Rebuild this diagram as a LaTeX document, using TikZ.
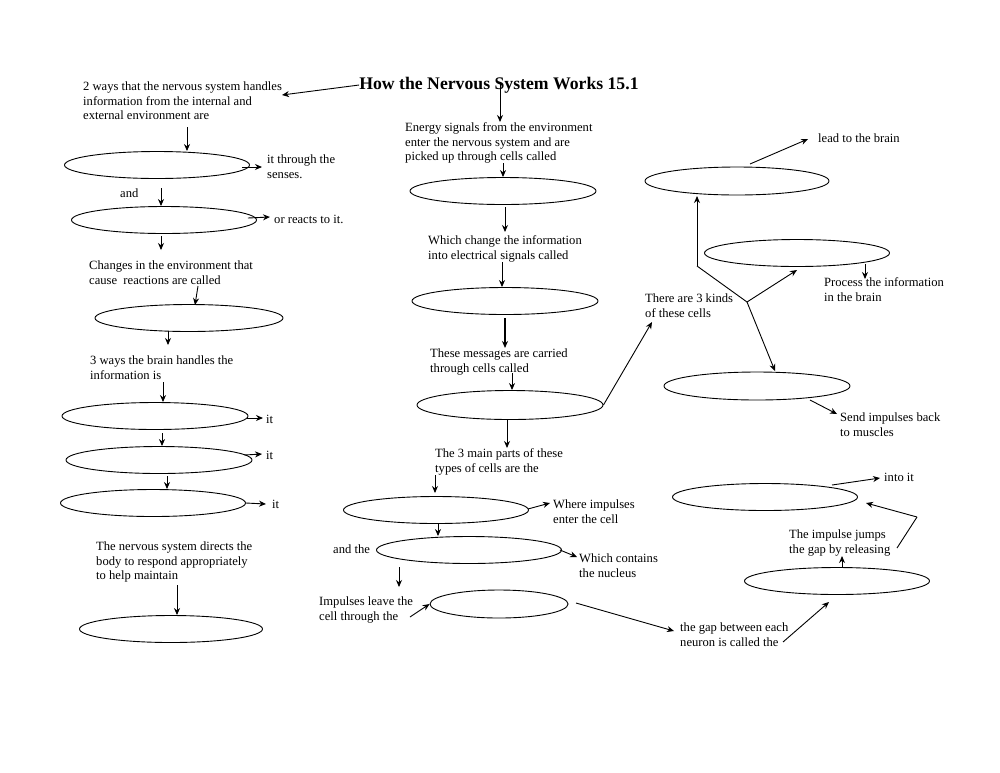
\documentclass[tikz,border=0pt]{standalone}
\usepackage{fontspec}
\setmainfont{Liberation Serif}
\usetikzlibrary{shapes.geometric,arrows.meta}
\tikzset{
  ell/.style={draw, ellipse, line width=0.9pt, inner sep=0pt, minimum width=185pt, minimum height=27pt},
  txt/.style={anchor=north west, align=left, inner sep=0pt, yshift=-1.5pt, font=\fontsize{12.6}{14.6}\selectfont},
  arr/.style={line width=0.9pt, -{Stealth[length=7pt,width=6pt]}},
  ln/.style={line width=0.9pt},
  ttl/.style={inner sep=0pt, font=\fontsize{17.7}{19}\selectfont\bfseries}
}
\begin{document}
\begin{tikzpicture}[x=1pt,y=-1pt]
\useasboundingbox[fill=white] (0,0) rectangle (1000,772);
% title
\node[ttl] (title) at (499,85) {How the Nervous System Works 15.1};
% left column ellipses
\node[ell] (e1) at (157,165) {};
\node[ell] (e2) at (164,220) {};
\node[ell, minimum width=188pt] (e3) at (189,318) {};
\node[ell, minimum width=186pt] (e4) at (155,416) {};
\node[ell, minimum width=186pt] (e5) at (159,460) {};
\node[ell] (e6) at (153,503) {};
\node[ell, minimum width=183pt] (e7) at (171,629) {};
% middle ellipses
\node[ell, minimum width=186pt] (m1) at (503,191) {};
\node[ell, minimum width=186pt] (m2) at (505,301) {};
\node[ell, minimum width=186pt, minimum height=29pt] (m3) at (510,405) {};
\node[ell] (m4) at (436,510) {};
\node[ell] (m5) at (469,550) {};
\node[ell, minimum width=138pt, minimum height=28pt] (m6) at (499,604) {};
% right ellipses
\node[ell, minimum width=184pt, minimum height=28pt] (r1) at (737,181) {};
\node[ell] (r2) at (797,253) {};
\node[ell, minimum width=186pt, minimum height=28pt] (r3) at (757,386) {};
\node[ell] (r4) at (765,497) {};
\node[ell] (r5) at (837,581) {};
% left texts
\node[txt] (t1) at (83,80) {2 ways that the nervous system handles\\information from the internal and\\external environment are};
\node[txt] (t2) at (267,153) {it through the\\senses.};
\node[txt] (t3) at (120,187) {and};
\node[txt] (t4) at (274,213) {or reacts to it.};
\node[txt] (t5) at (89,259) {Changes in the environment that\\cause\ \ reactions are called};
\node[txt] (t6) at (90,354) {3 ways the brain handles the\\information is};
\node[txt] (t7) at (266,413) {it};
\node[txt] (t8) at (266,449) {it};
\node[txt] (t9) at (272,498) {it};
\node[txt] (t10) at (96,540) {The nervous system directs the\\body to respond appropriately\\to help maintain};
% middle texts
\node[txt] (u1) at (405,121) {Energy signals from the environment\\enter the nervous system and are\\picked up through cells called};
\node[txt] (u2) at (428,234) {Which change the information\\into electrical signals called};
\node[txt] (u3) at (430,347) {These messages are carried\\through cells called};
\node[txt] (u4) at (435,447) {The 3 main parts of these\\types of cells are the};
\node[txt] (u5) at (553,498) {Where impulses\\enter the cell};
\node[txt] (u6) at (333,543) {and the};
\node[txt] (u7) at (579,552) {Which contains\\the nucleus};
\node[txt] (u8) at (319,595) {Impulses leave the\\cell through the};
\node[txt] (u9) at (680,621) {the gap between each\\neuron is called the};
% right texts
\node[txt] (w1) at (818,132) {lead to the brain};
\node[txt] (w2) at (824,276) {Process the information\\in the brain};
\node[txt] (w3) at (645,292) {There are 3 kinds\\of these cells};
\node[txt] (w4) at (840,411) {Send impulses back\\to muscles};
\node[txt] (w5) at (884,471) {into it};
\node[txt] (w6) at (789,528) {The impulse jumps\\the gap by releasing};
% coordinates for branches
\coordinate (b1) at (697,266);
\coordinate (b2) at (747,302);
\coordinate (g1) at (917,517);
% left arrows
\draw[arr] (title.west) -- (282,95);
\draw[arr] (187,127) -- (187,127 |- e1.north);
\draw[arr] (e1.east) ++(-8,2) -- (262,167);
\draw[arr] (161,188) -- (161,188 |- e2.north);
\draw[arr] (e2.east) ++(-9,-2) -- (270,217);
\draw[arr] (161,236) -- (161,250);
\draw[arr] (198,286) -- (195,305);
\draw[arr] (168,331) -- (168,345);
\draw[arr] (163,382) -- (163,382 |- e4.north);
\draw[arr] (e4.east) ++(-1,2) -- (263,418);
\draw[arr] (162,433) -- (162,433 |- e5.north);
\draw[arr] (e5.east) ++(-8,-5) -- (262,454);
\draw[arr] (167,476) -- (167,476 |- e6.north);
\draw[arr] (e6.east) -- (266,504);
\draw[arr] (177,585) -- (177,585 |- e7.north);
% middle arrows
\draw[arr] (500,82) -- (500,122);
\draw[arr] (503,163) -- (503,163 |- m1.north);
\draw[arr] (505,207) -- (505,232);
\draw[arr] (502,262) -- (502,262 |- m2.north);
\draw[arr, line width=1.3pt] (505,318) -- (505,348);
\draw[arr] (512,373) -- (512,373 |- m3.north);
\draw[arr] (m3.east) -- (652,322);
\draw[arr] (507,420) -- (507,448);
\draw[arr] (435,475) -- (435,493);
\draw[arr] (m4.east) ++(-1,-1) -- (550,503);
\draw[arr] (438,523) -- (438,523 |- m5.north);
\draw[arr] (m5.east) ++(-2,0) -- (577,557);
\draw[arr] (399,567) -- (399,587);
\draw[arr] (410,617) -- (m6.west);
\draw[arr] (576,603) -- (674,631);
\draw[arr] (783,642) -- (829,602);
% right arrows
\draw[arr] (750,164) -- (808,139);
\draw[arr] (b1) -- (697,196);
\draw[ln] (b1) -- (b2);
\draw[arr] (b2) -- (797,270);
\draw[arr] (b2) -- (775,371);
\draw[arr] (865,264) -- (865,279);
\draw[arr] (810,400) -- (837,414);
\draw[arr] (832,485) -- (880,478);
\draw[arr] (842,567) -- (842,556);
\draw[ln] (897,548) -- (g1);
\draw[arr] (g1) -- (866,503);
\end{tikzpicture}
\end{document}
